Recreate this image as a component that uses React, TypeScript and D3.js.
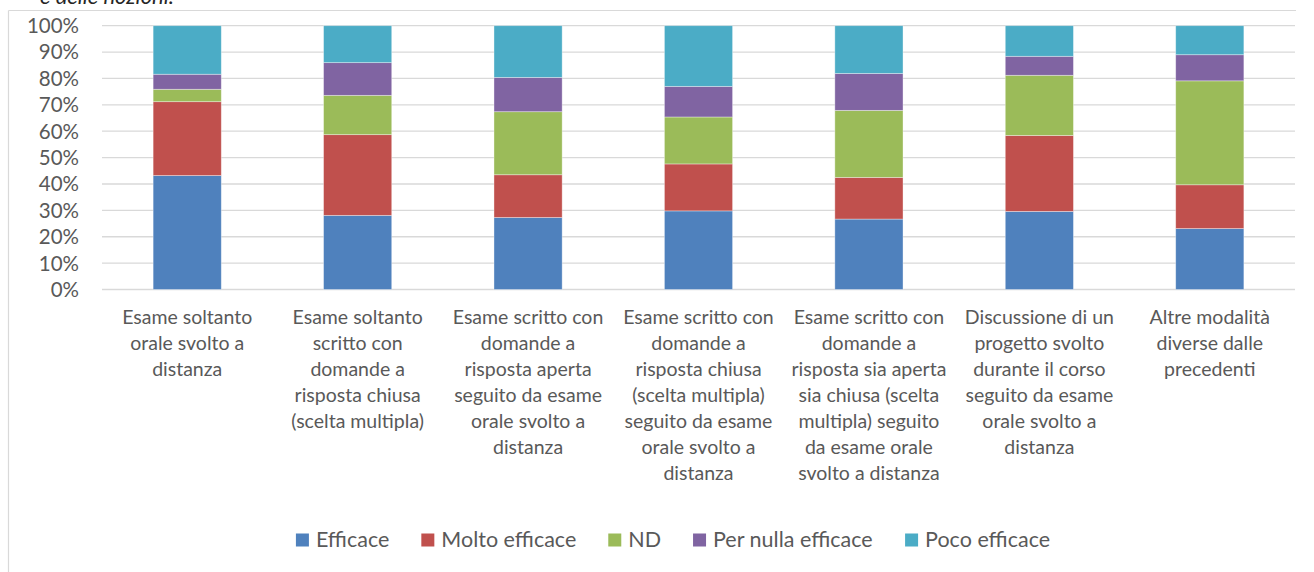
import React from 'react';
import * as d3 from 'd3';

// categorie (con gli a capo come nel grafico originale)
const categories = [
  ['Esame soltanto', 'orale svolto a', 'distanza'],
  ['Esame soltanto', 'scritto con', 'domande a', 'risposta chiusa', '(scelta multipla)'],
  ['Esame scritto con', 'domande a', 'risposta aperta', 'seguito da esame', 'orale svolto a', 'distanza'],
  ['Esame scritto con', 'domande a', 'risposta chiusa', '(scelta multipla)', 'seguito da esame', 'orale svolto a', 'distanza'],
  ['Esame scritto con', 'domande a', 'risposta sia aperta', 'sia chiusa (scelta', 'multipla) seguito', 'da esame orale', 'svolto a distanza'],
  ['Discussione di un', 'progetto svolto', 'durante il corso', 'seguito da esame', 'orale svolto a', 'distanza'],
  ['Altre modalità', 'diverse dalle', 'precedenti'],
];

const seriesNames = ['Efficace', 'Molto efficace', 'ND', 'Per nulla efficace', 'Poco efficace'];
const seriesColors = ['#4F81BD', '#C0504D', '#9BBB59', '#8064A2', '#4BACC6'];

// valori in percentuale
const efficace = [43.2, 28.1, 27.3, 29.8, 26.7, 29.6, 23.1];
const moltoEfficace = [28.0, 30.6, 16.2, 17.8, 15.8, 28.8, 16.6];
const nd = [4.7, 14.9, 23.9, 17.8, 25.4, 22.8, 39.4];
const perNulla = [5.7, 12.4, 13.0, 11.6, 14.0, 7.2, 9.9];
const poco = [18.4, 14.0, 19.6, 23.0, 18.1, 11.6, 11.0];

const yTicks = [0, 10, 20, 30, 40, 50, 60, 70, 80, 90, 100];

const FONT = 'Lato, "Open Sans", sans-serif';
const textColor = '#595959';

function measure(text: string, size: number) {
  const ctx = document.createElement('canvas').getContext('2d');
  if (!ctx) return text.length * size * 0.5;
  ctx.font = `${size}px Lato`;
  return ctx.measureText(text).width;
}

export default function App() {
  const W = 1314, H = 572;
  const left = 102, right = 1295, top = 25.7, bottom = 289.5;

  const rows = categories.map((c, i) => ({
    key: String(i),
    Efficace: efficace[i],
    'Molto efficace': moltoEfficace[i],
    ND: nd[i],
    'Per nulla efficace': perNulla[i],
    'Poco efficace': poco[i],
  }));

  const stack = d3.stack<any>().keys(seriesNames).offset(d3.stackOffsetExpand);
  const layers = stack(rows);

  const x = d3.scaleBand<string>()
    .domain(rows.map(r => r.key))
    .range([left, right])
    .paddingInner(0.6)
    .paddingOuter(0.3);
  const y = d3.scaleLinear().domain([0, 1]).range([bottom, top]);

  // legenda
  const legSize = 21.5;
  const box = 13;
  const items = seriesNames.map(n => ({ n, w: measure(n, legSize) }));
  const gapAfter = 32;
  const totalW = d3.sum(items, d => box + 7 + d.w) + gapAfter * (items.length - 1);
  let cursor = 673 - totalW / 2;
  const legend = items.map((it, i) => {
    const pos = cursor;
    cursor += box + 7 + it.w + gapAfter;
    return { ...it, x: pos, color: seriesColors[i] };
  });

  return (
    <svg width={W} height={H} style={{ position: 'absolute', left: 0, top: 0, background: '#fff' }} fontFamily={FONT}>
      <text x={40} y={4} fontSize={22} fontStyle="italic" fill="#262626">e delle nozioni.</text>
      {/* cornice */}
      <line x1={8.5} x2={8.5} y1={10.5} y2={H} stroke="#d9d9d9" strokeWidth={1.2} />
      <line x1={8.5} x2={1296} y1={10.5} y2={10.5} stroke="#d9d9d9" strokeWidth={1.2} />

      {yTicks.map(t => (
        <g key={t}>
          <line x1={left} x2={right} y1={y(t / 100)} y2={y(t / 100)} stroke="#d9d9d9" strokeWidth={1.3} />
          <text x={79} y={y(t / 100)} dy="0.36em" textAnchor="end" fontSize={20.5} fill={textColor}>{t}%</text>
        </g>
      ))}

      {layers.map((layer, si) => (
        <g key={layer.key} fill={seriesColors[si]}>
          {layer.map((d, i) => (
            <rect
              key={i}
              x={x(rows[i].key)}
              width={x.bandwidth()}
              y={y(d[1])}
              height={y(d[0]) - y(d[1])}
              stroke="#ffffff"
              strokeOpacity={0.45}
              strokeWidth={0.8}
            />
          ))}
        </g>
      ))}

      {categories.map((lines, i) => (
        <text key={i} textAnchor="middle" fontSize={19.5} fill={textColor}>
          {lines.map((l, j) => (
            <tspan key={j} x={(x(String(i)) ?? 0) + x.bandwidth() / 2} y={324 + j * 26}>{l}</tspan>
          ))}
        </text>
      ))}

      {legend.map(it => (
        <g key={it.n}>
          <rect x={it.x} y={533.5} width={box} height={box} fill={it.color} />
          <text x={it.x + box + 7} y={547} fontSize={legSize} fill={textColor}>{it.n}</text>
        </g>
      ))}
    </svg>
  );
}
